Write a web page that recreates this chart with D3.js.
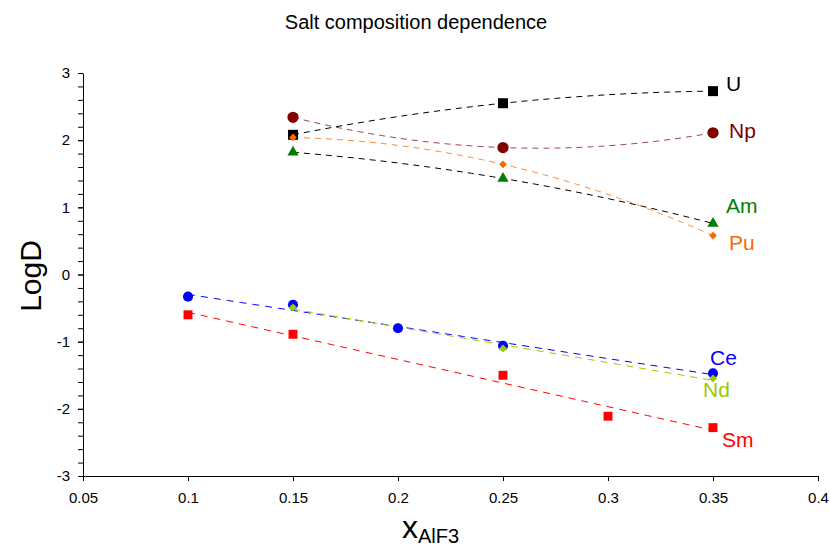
<!DOCTYPE html>
<html>
<head>
<meta charset="utf-8">
<script src="https://cdn.jsdelivr.net/npm/d3@7"></script>
<style>
  body { margin: 0; background: #fff; }
  svg { font-family: "Liberation Sans", Arial, sans-serif; }
  .axis path, .axis line { stroke: #000; }
  .axis text { font-size: 15px; fill: #000; font-family: "Liberation Sans", Arial, sans-serif; }
</style>
</head>
<body>
<div id="chart"></div>
<script>
const xTicks = [0.05, 0.1, 0.15, 0.2, 0.25, 0.3, 0.35, 0.4];
const yTicks = [-3, -2, -1, 0, 1, 2, 3];

// values
const xU = [0.15, 0.25, 0.35];
const yU = [2.08, 2.55, 2.73];
const xNp = [0.15, 0.25, 0.35];
const yNp = [2.34, 1.89, 2.11];
const xAm = [0.15, 0.25, 0.35];
const yAm = [1.82, 1.43, 0.76];
const xPu = [0.15, 0.25, 0.35];
const yPu = [2.04, 1.64, 0.58];
const xCe = [0.1, 0.15, 0.2, 0.25, 0.35];
const yCe = [-0.33, -0.45, -0.80, -1.06, -1.47];
const xNd = [0.15, 0.25, 0.35];
const yNd = [-0.49, -1.10, -1.55];
const xSm = [0.1, 0.15, 0.25, 0.3, 0.35];
const ySm = [-0.60, -0.89, -1.50, -2.11, -2.28];

// diamond = square turned 45deg (rot)
const series = [
  { name: "U",  xs: xU,  ys: yU,  fit: "quad", sym: d3.symbolSquare,   size: 100, rot: 0,  fill: "#000000", line: "#000000", lab: [726, 84] },
  { name: "Np", xs: xNp, ys: yNp, fit: "quad", sym: d3.symbolCircle,   size: 100, rot: 0,  fill: "#800000", line: "#a04848", lab: [729, 131] },
  { name: "Am", xs: xAm, ys: yAm, fit: "quad", sym: d3.symbolTriangle, size: 55,  rot: 0,  fill: "#008000", line: "#000000", lab: [726, 206] },
  { name: "Pu", xs: xPu, ys: yPu, fit: "quad", sym: d3.symbolSquare,   size: 30,  rot: 45, fill: "#ff6600", line: "#ff8c33", lab: [729, 243] },
  { name: "Ce", xs: xCe, ys: yCe, fit: "lin",  sym: d3.symbolCircle,   size: 80,  rot: 0,  fill: "#0000ff", line: "#0000ff", lab: [710, 358] },
  { name: "Nd", xs: xNd, ys: yNd, fit: "lin",  sym: d3.symbolSquare,   size: 32,  rot: 45, fill: "#99cc00", line: "#99cc00", lab: [703, 390] },
  { name: "Sm", xs: xSm, ys: ySm, fit: "lin",  sym: d3.symbolSquare,   size: 80,  rot: 0,  fill: "#ff0000", line: "#ff0000", lab: [722, 440] },
];

const W = 830, H = 549;
const svg = d3.select("#chart").append("svg").attr("width", W).attr("height", H);

const x = d3.scaleLinear().domain([0.05, 0.4]).range([83, 818]);
const y = d3.scaleLinear().domain([-3, 3]).range([476, 73]);

// axes
svg.append("g").attr("class", "axis")
  .attr("transform", "translate(0,476)")
  .call(d3.axisBottom(x).tickValues(xTicks).tickSize(5).tickSizeOuter(0).tickPadding(11).tickFormat((d) => String(d)));

const minor = d3.range(-3, 3.001, 0.2);
svg.append("g").attr("class", "axis")
  .attr("transform", "translate(83,0)")
  .call(d3.axisLeft(y).tickValues(minor).tickSize(5).tickSizeOuter(0).tickFormat(""));
svg.append("g").attr("class", "axis")
  .attr("transform", "translate(83,0)")
  .call(d3.axisLeft(y).tickValues(yTicks).tickSize(5).tickSizeOuter(0).tickPadding(8).tickFormat((d) => String(d)))
  .select(".domain").remove();

// trend lines
function linFit(xs, ys) {
  const mx = d3.mean(xs), my = d3.mean(ys);
  const b = d3.sum(xs, (v, i) => (v - mx) * (ys[i] - my)) / d3.sum(xs, (v) => (v - mx) ** 2);
  return (t) => my + b * (t - mx);
}
function quadFit(xs, ys) {
  // through the three points
  return (t) => ys.reduce((s, yi, i) => {
    let p = yi;
    xs.forEach((xj, j) => { if (j !== i) p *= (t - xj) / (xs[i] - xj); });
    return s + p;
  }, 0);
}

const line = d3.line().x((d) => x(d[0])).y((d) => y(d[1]));

series.forEach((s) => {
  const f = s.fit === "lin" ? linFit(s.xs, s.ys) : quadFit(s.xs, s.ys);
  const [x0, x1] = d3.extent(s.xs);
  const pts = d3.range(0, 41).map((i) => {
    const t = x0 + (x1 - x0) * i / 40;
    return [t, f(t)];
  });
  svg.append("path")
    .attr("d", line(pts))
    .attr("fill", "none")
    .attr("stroke", s.line)
    .attr("stroke-width", 1)
    .attr("stroke-dasharray", s.fit === "lin" ? "7,6" : "6,5");
});

// markers
series.forEach((s) => {
  svg.append("g").selectAll("path")
    .data(s.xs.map((v, i) => [v, s.ys[i]]))
    .join("path")
    .attr("transform", (d) => `translate(${x(d[0])},${y(d[1])}) rotate(${s.rot})`)
    .attr("d", d3.symbol().type(s.sym).size(s.size))
    .attr("fill", s.fill);
});

// series labels
series.forEach((s) => {
  svg.append("text")
    .attr("x", s.lab[0]).attr("y", s.lab[1])
    .attr("dy", "0.35em")
    .attr("font-size", 21)
    .attr("fill", s.fill)
    .text(s.name);
});

// titles
svg.append("text")
  .attr("x", 416).attr("y", 29)
  .attr("text-anchor", "middle")
  .attr("font-size", 20)
  .text("Salt composition dependence");

svg.append("text")
  .attr("transform", "translate(41,276) rotate(-90)")
  .attr("text-anchor", "middle")
  .attr("font-size", 30)
  .text("LogD");

const xt = svg.append("text")
  .attr("x", 402).attr("y", 538);
xt.append("tspan").attr("font-size", 32).text("x");
xt.append("tspan").attr("font-size", 20).attr("dy", 5).text("AlF3");
</script>
</body>
</html>
